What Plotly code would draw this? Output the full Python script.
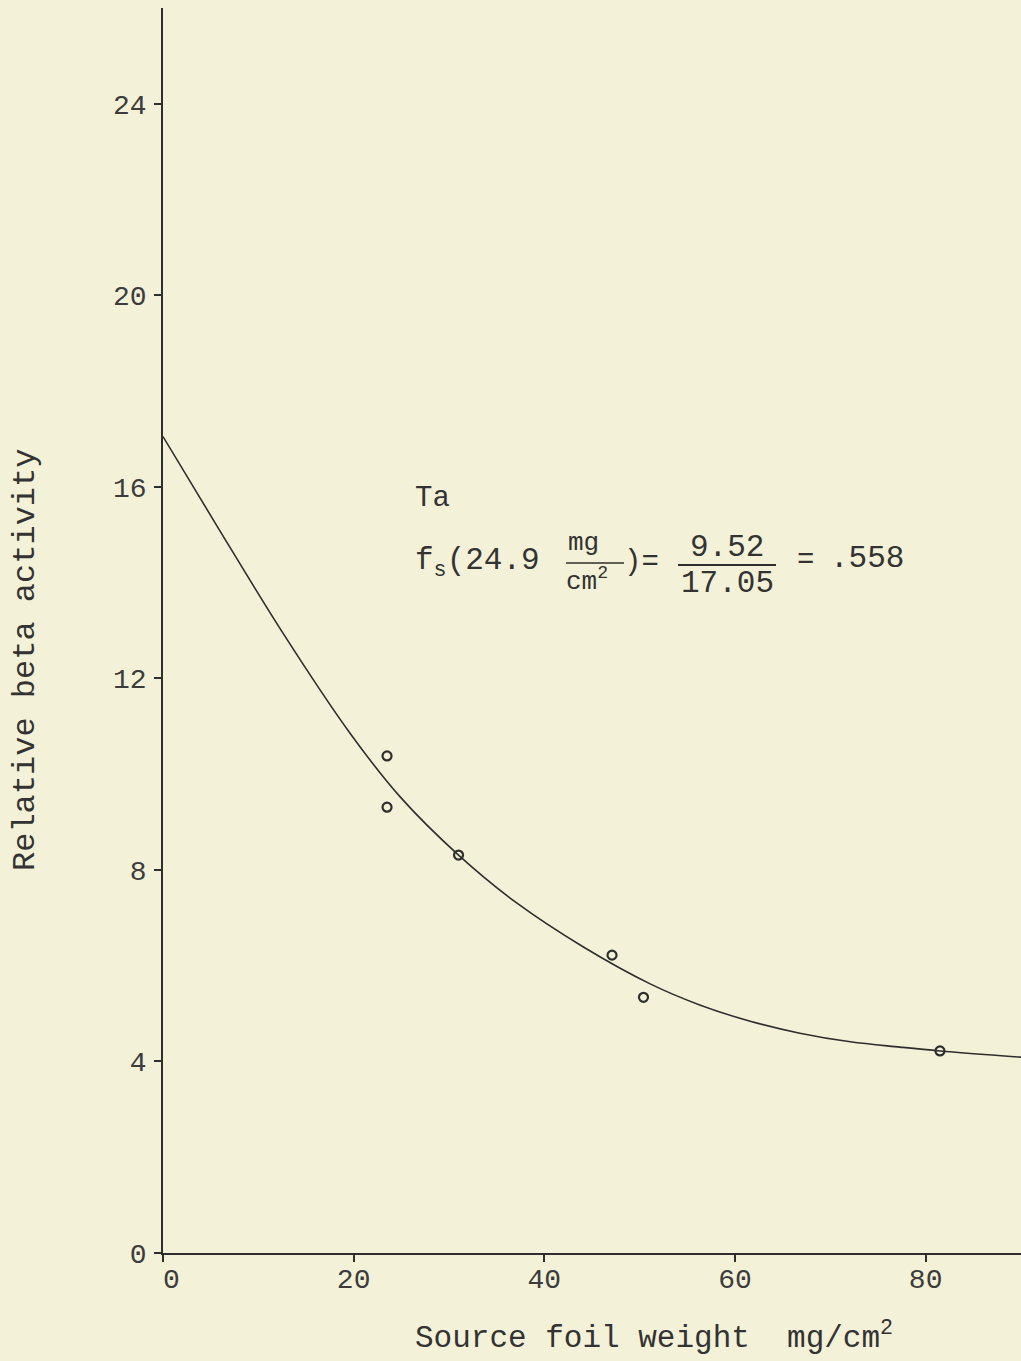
import plotly.graph_objects as go

# ---- data ----
point_x = [23.5, 23.5, 31.0, 47.1, 50.4, 81.5]
point_y = [10.38, 9.31, 8.31, 6.22, 5.34, 4.22]

curve_x = [0, 5.7, 12.6, 19.6, 24.9, 31.0, 37.1, 44.1, 51.1, 56.3, 61.6, 66.8, 72.1, 77.3, 81.5, 90]
curve_y = [17.05, 15.17, 12.94, 10.86, 9.52, 8.31, 7.31, 6.39, 5.62, 5.18, 4.84, 4.59, 4.41, 4.30, 4.22, 4.09]

x_ticks = [0, 20, 40, 60, 80]
x_tick_text = ["\u00a00", "20", "40", "60", "80"]
y_ticks = [0, 4, 8, 12, 16, 20, 24]
y_tick_text = ["0", "4", "8", "12", "16", "20", "24"]

x_title = "Source foil weight\u00a0\u00a0mg/cm<sup>2</sup>"
y_title = "Relative beta activity"

# ---- layout constants ----
W, H = 1021, 1361
L, R, T, B = 163, 0, 8, 108
PW, PH = W - L - R, H - T - B
BG = "#f3f2d8"
INK = "#2e2e2e"
FONT = "Liberation Mono"


def px(xp):
    return (xp - L) / PW


def py(yp):
    return (H - B - yp) / PH


fig = go.Figure()
fig.add_trace(go.Scatter(x=curve_x, y=curve_y, mode="lines",
                         line=dict(color=INK, width=1.6, shape="spline", smoothing=1.0),
                         hoverinfo="skip", showlegend=False))
fig.add_trace(go.Scatter(x=point_x, y=point_y, mode="markers",
                         marker=dict(symbol="circle-open", size=9, color=INK,
                                     line=dict(width=2.2, color=INK)),
                         showlegend=False))

axis_common = dict(showgrid=False, zeroline=False, showline=True, linecolor=INK,
                   linewidth=1.5, ticks="outside", ticklen=7, tickwidth=1.5,
                   tickcolor=INK, tickfont=dict(family=FONT, size=28, color="#3c3c3c"))

fig.update_xaxes(range=[0, 90], tickvals=x_ticks, ticktext=x_tick_text,
                 ticklabelstandoff=-7, **axis_common)
fig.update_yaxes(range=[0, 26], tickvals=y_ticks, ticktext=y_tick_text,
                 ticklabelstandoff=2, **axis_common)

ann = []


def add_text(text, xp, yp, size=30, xanchor="left", angle=0):
    ann.append(dict(text=text, x=px(xp), y=py(yp), xref="paper", yref="paper",
                    xanchor=xanchor, yanchor="middle", showarrow=False, textangle=angle,
                    font=dict(family=FONT, size=size, color="#333333")))


add_text(x_title, 413, 1336, size=31)
add_text(y_title, 25, 660, size=32, xanchor="center", angle=-90)
add_text("Ta", 413, 498, size=29)
add_text("f<sub>s</sub>(24.9", 413, 563, size=31)
add_text("mg", 566, 543, size=26)
add_text("cm<sup>2</sup>", 564, 580, size=26)
add_text(")=", 622, 562, size=29)
add_text("9.52", 727, 548, size=31, xanchor="center")
add_text("17.05", 727, 583, size=31, xanchor="center")
add_text("=", 795, 560, size=29)
add_text(".558", 828, 558, size=31)

shapes = [
    dict(type="line", xref="paper", yref="paper", x0=px(566), x1=px(624), y0=py(563), y1=py(563),
         line=dict(color=INK, width=1.6)),
    dict(type="line", xref="paper", yref="paper", x0=px(678), x1=px(776), y0=py(565), y1=py(565),
         line=dict(color=INK, width=1.8)),
    # small axis overhangs as in the drawing
    dict(type="line", xref="paper", yref="paper", x0=px(156), x1=px(163), y0=py(1253), y1=py(1253),
         line=dict(color=INK, width=1.5)),
    dict(type="line", xref="paper", yref="paper", x0=px(163), x1=px(163), y0=py(1253), y1=py(1260),
         line=dict(color=INK, width=1.5)),
]

fig.update_layout(width=W, height=H, margin=dict(l=L, r=R, t=T, b=B),
                  paper_bgcolor=BG, plot_bgcolor=BG, annotations=ann, shapes=shapes,
                  showlegend=False)

page_js = ("document.body.style.margin='0';document.body.style.overflow='hidden';"
           "document.body.style.background='" + BG + "';")
fig.write_html("out.html", post_script=page_js, config={"displayModeBar": False})
